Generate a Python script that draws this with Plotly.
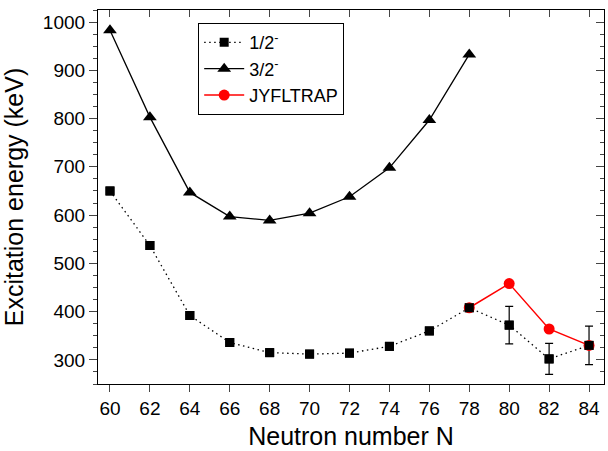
import plotly.graph_objects as go

N_half = [60, 62, 64, 66, 68, 70, 72, 74, 76, 78, 80, 82, 84]
E_half = [650, 537, 392, 336, 315, 312, 314, 328, 360, 408, 372, 302, 330]
E_half_err = [0, 0, 0, 0, 0, 0, 0, 0, 0, 0, 39, 32, 40]

N_three = [60, 62, 64, 66, 68, 70, 72, 74, 76, 78]
E_three = [983, 803, 647, 597, 589, 604, 638, 698, 797, 933]

N_jyfl = [78, 80, 82, 84]
E_jyfl = [408, 458, 364, 330]

x_ticks = list(range(60, 86, 2))
y_ticks = list(range(300, 1001, 100))

FONT = "Liberation Sans, Arial, sans-serif"

fig = go.Figure()

fig.add_trace(go.Scatter(
    x=N_half, y=E_half, name="1/2<sup>-</sup>", mode="lines+markers",
    line=dict(color="black", width=1.3, dash="1.5px,3.5px"),
    marker=dict(symbol="square", size=9, color="black"),
    error_y=dict(type="data", array=E_half_err, visible=True, color="black", thickness=1.2, width=4),
))
fig.add_trace(go.Scatter(
    x=N_three, y=E_three, name="3/2<sup>-</sup>", mode="lines+markers",
    line=dict(color="black", width=1.3),
    marker=dict(symbol="triangle-up", size=12, color="black"),
))
fig.add_trace(go.Scatter(
    x=N_jyfl, y=E_jyfl, name="JYFLTRAP", mode="lines+markers",
    line=dict(color="red", width=1.5),
    marker=dict(symbol="circle", size=11, color="red"),
))
# redraw 1/2- markers above the red line
fig.add_trace(go.Scatter(
    x=N_half, y=E_half, mode="markers", showlegend=False, hoverinfo="skip",
    marker=dict(symbol="square", size=9, color="black"),
))
# dummy trace for mirrored axes
fig.add_trace(go.Scatter(x=[N_half[0]], y=[E_half[0]], xaxis="x2", yaxis="y2",
                         mode="markers", marker=dict(opacity=0), showlegend=False, hoverinfo="skip"))

fig.update_layout(
    width=608, height=451,
    margin=dict(l=98, r=4, t=10, b=67, autoexpand=False),
    plot_bgcolor="white", paper_bgcolor="white",
    font=dict(family=FONT, size=19, color="black"),
    showlegend=True,
    legend=dict(x=0.198, y=0.965, xanchor="left", yanchor="top",
                bordercolor="black", borderwidth=1, bgcolor="white",
                font=dict(family=FONT, size=18), tracegroupgap=0,
                itemwidth=40),
    xaxis=dict(range=[59.4, 84.75], tickvals=x_ticks, ticks="outside", ticklen=7,
               showline=True, linecolor="black", linewidth=1.2, showgrid=False, zeroline=False,
               automargin=False,
               title=dict(text="Neutron number N", font=dict(size=25), standoff=9),
               tickfont=dict(size=19)),
    yaxis=dict(range=[250, 1025], tickvals=y_ticks, ticks="outside", ticklen=8,
               minor=dict(dtick=25, tick0=250, ticks="outside", ticklen=4, showgrid=False),
               showline=True, linecolor="black", linewidth=1.2, showgrid=False, zeroline=False,
               automargin=False,
               title=dict(text="Excitation energy (keV)", font=dict(size=25), standoff=13),
               tickfont=dict(size=19)),
    xaxis2=dict(overlaying="x", side="top", matches="x", tickvals=x_ticks, ticks="inside", ticklen=7,
                showticklabels=False, showline=True, linecolor="black", linewidth=1.2,
                showgrid=False, zeroline=False),
    yaxis2=dict(overlaying="y", side="right", matches="y", tickvals=y_ticks, ticks="inside", ticklen=8,
                minor=dict(dtick=25, tick0=250, ticks="inside", ticklen=4, showgrid=False),
                showticklabels=False, showline=True, linecolor="black", linewidth=1.2,
                showgrid=False, zeroline=False),
)

fig.write_html("out.html", config={"displayModeBar": False},
               post_script="document.body.style.margin='0';document.body.style.overflow='hidden';")
